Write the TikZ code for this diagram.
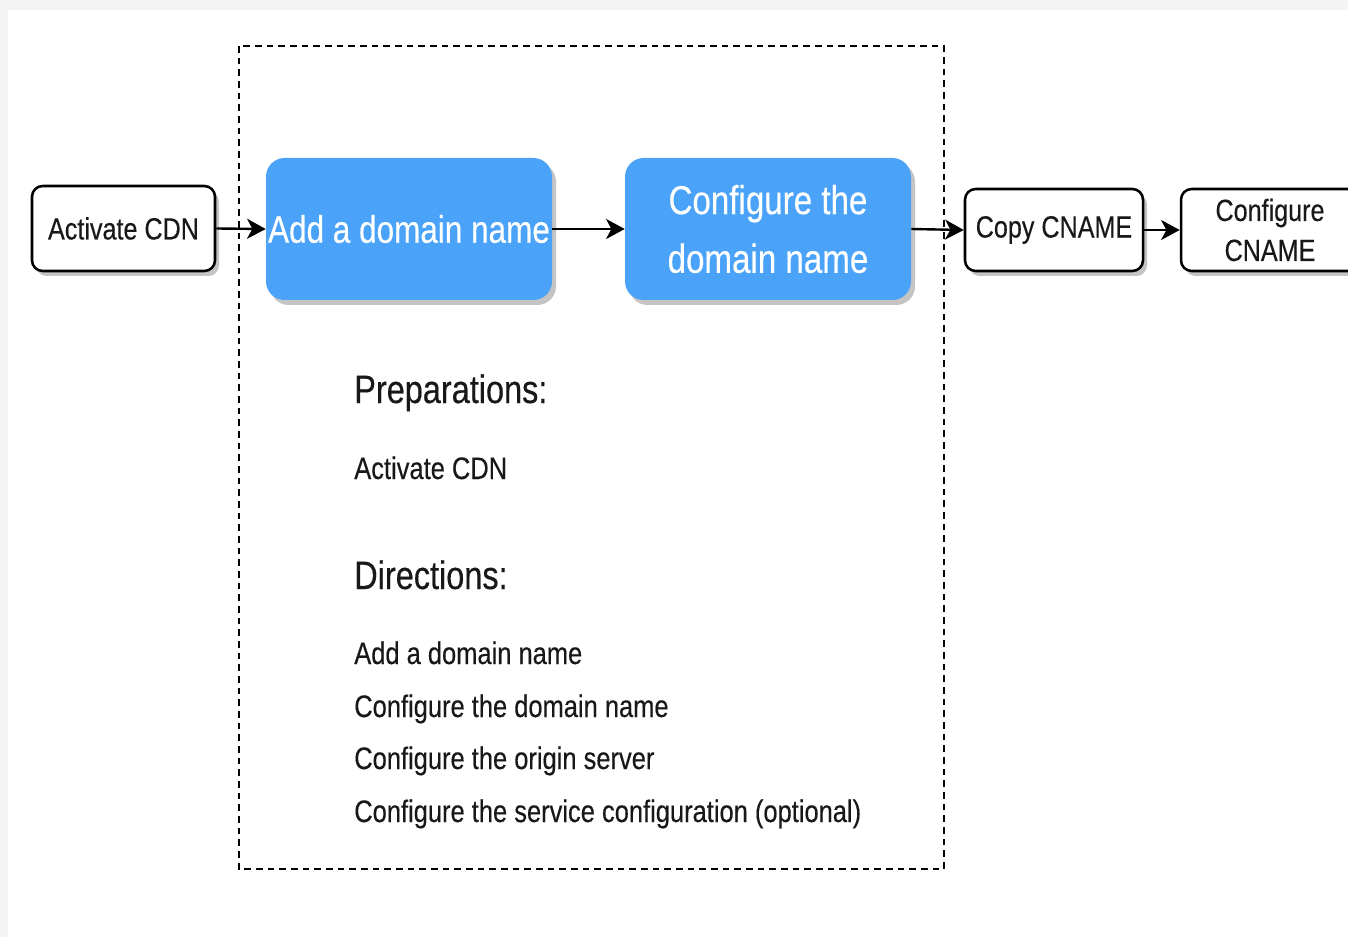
\documentclass[tikz,border=0pt]{standalone}
\usepackage{fontspec}
\setmainfont{Liberation Sans}[FakeStretch=0.82,FakeBold=0.3]
\usetikzlibrary{arrows.meta,shadows}
\definecolor{bluebox}{HTML}{4AA3F8}
\definecolor{txt}{HTML}{1A1718}
\definecolor{shad}{HTML}{C4C4C4}
\begin{document}
\begin{tikzpicture}[x=0.75pt,y=-0.75pt,
  shd/.style={drop shadow={shadow xshift=3pt,shadow yshift=-3.75pt,fill=shad,opacity=1}},
  whitebox/.style={draw=black,line width=1.9pt,fill=white,rounded corners=8pt,shd,
    inner sep=0pt,align=center,text=txt,font=\fontsize{23}{30}\selectfont},
  bluestep/.style={fill=bluebox,rounded corners=14pt,shd,minimum width=214.5pt,minimum height=106.5pt,
    inner sep=0pt,align=center,text=white},
  conn/.style={line width=1.8pt,-{Stealth[length=14pt,width=15pt,inset=4pt]}},
  listtext/.style={anchor=base west,inner sep=0pt,text=txt,font=\fontsize{23.3}{28}\selectfont},
  headtext/.style={anchor=base west,inner sep=0pt,text=txt,font=\fontsize{29.7}{36}\selectfont}]
\useasboundingbox (0,0) rectangle (1348,937);
\fill[gray!9] (0,0) rectangle (1348,937);
\fill[white] (8,10) rectangle (1348,937);
% dashed frame
\draw[line width=1.5pt,dash pattern=on 5pt off 3.75pt] (239,46) rectangle (944,869);
% nodes
\node[whitebox,minimum width=137.25pt,minimum height=63.75pt] (act) at (123.5,228.5) {Activate CDN};
\node[bluestep,font=\fontsize{28.8}{44}\selectfont] (add) at (409,229) {Add a domain name};
\node[bluestep,font=\fontsize{30.3}{44}\selectfont] (cfg) at (768,229) {Configure the\\domain name};
\node[whitebox,minimum width=133.5pt,minimum height=61.5pt] (copy) at (1054,230) {Copy CNAME};
\node[whitebox,minimum width=133.5pt,minimum height=61.5pt] (cname) at (1270,230) {Configure\\CNAME};
% connectors
\draw[conn] (act.east) -- (add.west);
\draw[conn] (add.east) -- (cfg.west);
\draw[conn] (cfg.east) -- (copy.west);
\draw[conn] (copy.east) -- (cname.west);
% texts
\node[headtext] (prep) at (354,403) {Preparations:};
\node[listtext] (p1) at (354,479) {Activate CDN};
\node[headtext] (dir) at (354,589) {Directions:};
\node[listtext] (d1) at (354,664) {Add a domain name};
\node[listtext] (d2) at (354,717) {Configure the domain name};
\node[listtext] (d3) at (354,769) {Configure the origin server};
\node[listtext] (d4) at (354,822) {Configure the service configuration (optional)};
\end{tikzpicture}
\end{document}
